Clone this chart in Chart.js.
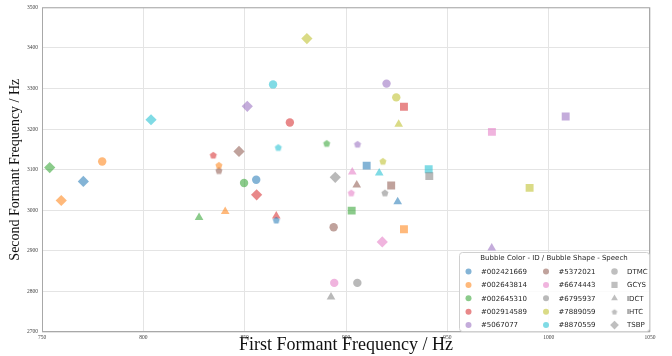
<!DOCTYPE html>
<html>
<head>
<meta charset="utf-8">
<script src="https://cdn.jsdelivr.net/npm/chart.js@4.4.1/dist/chart.umd.min.js"></script>
<style>
  html, body { margin: 0; padding: 0; background: #fff; }
  #wrap { width: 672px; height: 356px; }
</style>
</head>
<body>
<div id="wrap"><canvas id="chart"></canvas></div>
<script>
// speaker ids (bubble colour) and speech types (bubble shape)
const speakers = ['#002421669', '#002643814', '#002645310', '#002914589', '#5067077',
                  '#5372021', '#6674443', '#6795937', '#7889059', '#8870559'];
const speeches = ['DTMC', 'GCYS', 'IDCT', 'IHTC', 'TSBP'];

// F1 per speaker, in speech order DTMC, GCYS, IDCT, IHTC, TSBP
const f1 = [
  [855.7, 910.2, 925.5, 865.6, 770.4],
  [779.7, 928.6, 840.4, 837.3, 759.5],
  [849.7, 902.8, 827.5, 890.5, 753.8],
  [872.3, 928.6, 865.6, 834.5, 855.9],
  [920.0, 1008.4, 971.9, 905.7, 851.3],
  [893.9, 922.3, 905.3, 837.3, 847.2],
  [894.2, 972.0, 903.1, 902.6, 917.9],
  [905.6, 941.1, 892.6, 919.2, 894.7],
  [924.8, 990.6, 926.0, 918.2, 880.7],
  [864.0, 940.8, 916.4, 866.6, 803.8]
];
// F2 per speaker, same order
const f2 = [
  [3075, 3110, 3021, 2976, 3071],
  [3120, 2953, 2997, 3111, 3024],
  [3067, 2999, 2982, 3165, 3105],
  [3216, 3255, 2986, 3136, 3038],
  [3312, 3231, 2907, 3163, 3256],
  [2958, 3061, 3062, 3098, 3145],
  [2821, 3193, 3094, 3043, 2922],
  [2821, 3084, 2786, 3043, 3081],
  [3278, 3055, 3212, 3121, 3423],
  [3310, 3101, 3092, 3155, 3223]
];

const xTicks = [750, 800, 850, 900, 950, 1000, 1050];
const yTicks = [2700, 2800, 2900, 3000, 3100, 3200, 3300, 3400, 3500];

const palette = ['#1f77b4', '#ff7f0e', '#2ca02c', '#d62728', '#9467bd',
                 '#8c564b', '#e377c2', '#7f7f7f', '#bcbd22', '#17becf'];
const alpha = 0.55;

function withAlpha(hex, a) {
  const n = parseInt(hex.slice(1), 16);
  return 'rgba(' + (n >> 16) + ',' + ((n >> 8) & 255) + ',' + (n & 255) + ',' + a + ')';
}

// chart.js has no pentagon, so build a tiny canvas per colour
function pentagon(color, r) {
  const c = document.createElement('canvas');
  const s = Math.ceil(r * 2 + 2);
  c.width = s; c.height = s;
  const g = c.getContext('2d');
  g.fillStyle = color;
  g.beginPath();
  for (let k = 0; k < 5; k++) {
    const a = -Math.PI / 2 + k * 2 * Math.PI / 5;
    const px = s / 2 + r * Math.cos(a), py = s / 2 + r * Math.sin(a) + 0.4;
    if (k === 0) g.moveTo(px, py); else g.lineTo(px, py);
  }
  g.closePath();
  g.fill();
  return c;
}

function shapeFor(j, color, scale) {
  scale = scale || 1;
  switch (speeches[j]) {
    case 'DTMC': return { style: 'circle', r: 4.2 * scale };
    case 'GCYS': return { style: 'rect', r: 5.6 * scale };
    case 'IDCT': return { style: 'triangle', r: 5.0 * scale };
    case 'IHTC': return { style: pentagon(color, 3.7 * scale), r: 3.7 * scale };
    default: return { style: 'rectRot', r: 5.6 * scale };
  }
}

const datasets = speakers.map((id, i) => {
  const col = withAlpha(palette[i], alpha);
  const shapes = speeches.map((s, j) => shapeFor(j, col));
  return {
    label: id,
    data: speeches.map((s, j) => ({ x: f1[i][j], y: f2[i][j] })),
    backgroundColor: col,
    borderWidth: 0,
    pointStyle: shapes.map(p => p.style),
    pointRadius: shapes.map(p => p.r),
    pointHoverRadius: shapes.map(p => p.r)
  };
});

const frameAndLegend = {
  id: 'frameAndLegend',
  afterDraw(chart) {
    const ctx = chart.ctx;
    const a = chart.chartArea;
    ctx.save();
    ctx.strokeStyle = '#a8a8a8';
    ctx.lineWidth = 1;
    ctx.strokeRect(a.left + 0.5, a.top + 0.5, a.right - a.left - 1, a.bottom - a.top - 1);

    // legend box, lower right inside plot
    const w = 190, h = 79;
    const left = a.right - w - 1, top = a.bottom - h - 1;
    ctx.beginPath();
    ctx.roundRect(left + 0.5, top + 0.5, w, h, 3);
    ctx.fillStyle = 'rgba(255,255,255,0.85)';
    ctx.fill();
    ctx.strokeStyle = '#d0d0d0';
    ctx.stroke();

    ctx.fillStyle = '#262626';
    ctx.font = '7px "DejaVu Sans"';
    ctx.textAlign = 'center';
    ctx.textBaseline = 'middle';
    ctx.fillText('Bubble Color - ID / Bubble Shape - Speech', left + w / 2, top + 6);

    ctx.textAlign = 'left';
    const rowY = k => top + 19.5 + k * 13.4;
    speakers.forEach((id, i) => {
      const col = i < 5 ? 0 : 1;
      const k = i % 5;
      const mx = left + (col === 0 ? 9.5 : 87);
      ctx.fillStyle = withAlpha(palette[i], alpha);
      Chart.helpers.drawPoint(ctx, { pointStyle: 'circle', radius: 3, rotation: 0, borderWidth: 0 }, mx, rowY(k));
      ctx.fillStyle = '#262626';
      ctx.fillText(id, left + (col === 0 ? 22 : 99.5), rowY(k) + 0.5);
    });
    const gray = withAlpha('#7f7f7f', 0.5);
    speeches.forEach((s, j) => {
      const p = shapeFor(j, gray, 0.78);
      ctx.fillStyle = gray;
      Chart.helpers.drawPoint(ctx, { pointStyle: p.style, radius: p.r, rotation: 0, borderWidth: 0 }, left + 155.5, rowY(j));
      ctx.fillStyle = '#262626';
      ctx.fillText(s, left + 168, rowY(j) + 0.5);
    });
    ctx.restore();
  }
};

new Chart(document.getElementById('chart'), {
  type: 'scatter',
  data: { datasets: datasets },
  options: {
    responsive: true,
    maintainAspectRatio: false,
    animation: false,
    layout: { padding: { left: 0, right: 22, top: 6, bottom: 0 } },
    plugins: {
      legend: { display: false },
      tooltip: { enabled: false }
    },
    scales: {
      x: {
        type: 'linear',
        min: 750,
        max: 1050,
        afterBuildTicks: scale => { scale.ticks = xTicks.map(v => ({ value: v })); },
        afterFit: scale => { scale.height = 24; },
        ticks: {
          padding: 2,
          color: '#444',
          callback: v => String(v),
          font: { family: '"Liberation Serif"', size: 5.5 }
        },
        grid: { color: '#e4e4e4', drawTicks: false },
        border: { display: false },
        title: {
          display: true,
          text: 'First Formant Frequency / Hz',
          color: '#111',
          font: { family: '"Liberation Serif"', size: 18 },
          padding: { top: 0, bottom: 0 }
        }
      },
      y: {
        type: 'linear',
        min: 2700,
        max: 3500,
        afterBuildTicks: scale => { scale.ticks = yTicks.map(v => ({ value: v })); },
        afterFit: scale => { scale.width = 42; },
        ticks: {
          padding: 4,
          color: '#444',
          callback: v => String(v),
          font: { family: '"Liberation Serif"', size: 5.5 }
        },
        grid: { color: '#e4e4e4', drawTicks: false },
        border: { display: false },
        title: {
          display: true,
          text: 'Second Formant Frequency / Hz',
          color: '#111',
          font: { family: '"Liberation Serif"', size: 14 },
          padding: { top: 7, bottom: 0 }
        }
      }
    }
  },
  plugins: [frameAndLegend]
});
</script>
</body>
</html>
